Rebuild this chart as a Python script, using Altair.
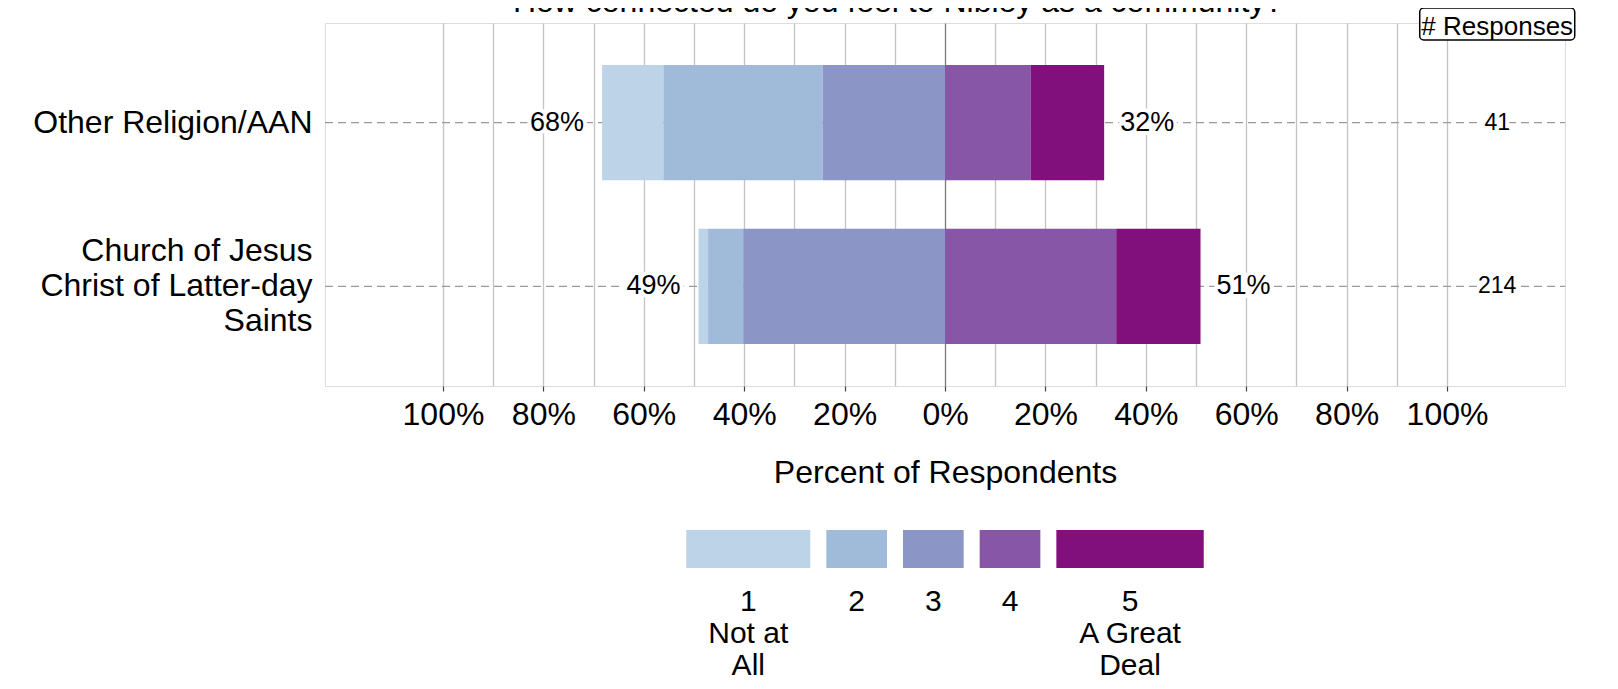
import altair as alt
import pandas as pd

# ---------------- data ----------------
title_text = "How connected do you feel to Nibley as a community?"
groups = ["Other Religion/AAN", "Church of Jesus\nChrist of Latter-day\nSaints"]
levels = ["1", "2", "3", "4", "5"]
level_names = ["1\nNot at\nAll", "2", "3", "4", "5\nA Great\nDeal"]
colors = ["#bdd3e7", "#9fbbd9", "#8b96c6", "#8856a7", "#810f7c"]
pct_other = [12.2, 31.7, 24.4, 17.1, 14.6]
pct_church = [1.9, 7.0, 40.2, 34.1, 16.8]
n_responses = [41, 214]
x_ticks = [round(i / 10, 1) for i in range(-10, 11)]

# ---------------- layout ----------------
W, H = 1240, 363
XMAX = 1.235
PX = W / (2 * XMAX)          # pixels per unit
N_X = 1.1                    # column of response counts
FONT = "Liberation Sans"
LH = 35                      # line height of y labels

# ---------------- tables ----------------
seg_rows, lab_rows = [], []
for g, pcts, n in zip(groups, [pct_other, pct_church], n_responses):
    neg = sum(pcts[:3]) / 100
    pos = sum(pcts[3:]) / 100
    start = -neg
    for lev, p in zip(levels, pcts):
        seg_rows.append(dict(group=g, level=lev, x=start, x2=start + p / 100))
        start += p / 100
    lab_rows.append(dict(group=g, left=-neg, right=pos,
                         ltxt=f"{round(neg * 100)}%", rtxt=f"{round(pos * 100)}%",
                         n=str(n), nx=N_X))
seg = pd.DataFrame(seg_rows)
lab = pd.DataFrame(lab_rows)

# legend: swatch widths from approximate Arial glyph widths
aw = {"N": 722, "o": 556, "t": 278, " ": 278, "a": 556, "A": 667, "l": 222,
      "G": 778, "r": 333, "e": 556, "D": 722}
LEG_FS = 30
def tw(s):
    return sum(aw.get(c, 556) for c in s) * LEG_FS / 1000
widths = [max(tw(line) for line in name.split("\n")) + 44 for name in level_names]
gap = 16
total = sum(widths) + gap * (len(widths) - 1)
cur = W / 2 - total / 2
leg_rows = []
for lev, name, w in zip(levels, level_names, widths):
    a, b = cur, cur + w
    leg_rows.append(dict(level=lev, name=name,
                         lx=(a - W / 2) / PX, lx2=(b - W / 2) / PX,
                         lc=((a + b) / 2 - W / 2) / PX))
    cur = b + gap
leg = pd.DataFrame(leg_rows)

hw = 77.5 / PX
hdr = pd.DataFrame([dict(x=N_X - hw, x2=N_X + hw, xc=N_X, t="# Responses")])
ttl = pd.DataFrame([dict(t=title_text)])

xscale = alt.Scale(domain=[-XMAX, XMAX], nice=False, zero=False)
yscale = alt.Scale(domain=groups, paddingInner=0.296, paddingOuter=0.256)
cscale = alt.Scale(domain=levels, range=colors)

x_axis = alt.Axis(
    values=x_ticks,
    labelExpr="abs(round(datum.value*10)) % 2 == 0 ? format(abs(datum.value), '.0%') : ''",
    grid=True,
    gridColor={"condition": {"test": "abs(datum.value) < 1e-9", "value": "#7a7a7a"},
               "value": "#c4c4c4"},
    gridWidth=1.3,
    ticks=True, tickSize=5, tickColor="#444", tickWidth=1.2,
    tickOpacity={"condition": {"test": "abs(round(datum.value*10)) % 2 == 0", "value": 1},
                 "value": 0},
    labelFontSize=32, labelPadding=8, labelColor="black", labelFont=FONT,
    labelFlush=False, labelOverlap=False,
    domain=False,
    title="Percent of Respondents", titleFontSize=32, titleFontWeight="normal",
    titleFont=FONT, titleColor="black", titleBaseline="alphabetic", titleY=96,
)
y_axis = alt.Axis(
    title=None, labelFontSize=32, labelPadding=13, ticks=False, domain=False,
    grid=False, labelColor="black", labelFont=FONT, labelLimit=500,
    labelExpr="split(datum.label, '\\n')", labelLineHeight=LH,
    labelOffset={"condition": {"test": "indexof(datum.value, '\\n') >= 0", "value": -LH},
                 "value": 0},
)

Y = alt.Y("group:N", scale=yscale, sort=groups, axis=y_axis)

dash = alt.Chart(lab).mark_rule(color="#9a9a9a", strokeWidth=1.3, strokeDash=[8, 5]).encode(
    y=Y, x=alt.value(0), x2=alt.value(W))

bars = alt.Chart(seg).mark_bar(strokeWidth=0).encode(
    x=alt.X("x:Q", scale=xscale, axis=x_axis),
    x2="x2:Q",
    y=Y,
    color=alt.Color("level:N", scale=cscale, legend=None),
)

def halo_text(df, xfield, tfield, size, align, dx):
    base = alt.Chart(df).encode(x=alt.X(f"{xfield}:Q", scale=xscale), y=Y,
                                text=f"{tfield}:N")
    back = base.mark_text(font=FONT, fontSize=size, align=align, dx=dx,
                          baseline="middle", color="white", stroke="white",
                          strokeWidth=8, strokeJoin="round")
    front = base.mark_text(font=FONT, fontSize=size, align=align, dx=dx,
                           baseline="middle", color="black")
    return back + front

left_t = halo_text(lab, "left", "ltxt", 27, "right", -18)
right_t = halo_text(lab, "right", "rtxt", 27, "left", 16)
n_t = halo_text(lab, "nx", "n", 23, "center", 0)

hdr_box = alt.Chart(hdr).mark_rect(fill="white", stroke="black", strokeWidth=1.5,
                                   cornerRadius=4).encode(
    x=alt.X("x:Q", scale=xscale), x2="x2:Q", y=alt.value(-15), y2=alt.value(17))
hdr_txt = alt.Chart(hdr).mark_text(font=FONT, fontSize=26, baseline="alphabetic",
                                   color="black").encode(
    x=alt.X("xc:Q", scale=xscale), y=alt.value(12), text="t:N")

title = alt.Chart(ttl).mark_text(font=FONT, fontSize=32, baseline="alphabetic",
                                 color="black").encode(
    x=alt.value(573), y=alt.value(-11), text="t:N")

leg_sw = alt.Chart(leg).mark_rect(strokeWidth=0).encode(
    x=alt.X("lx:Q", scale=xscale), x2="lx2:Q",
    y=alt.value(507), y2=alt.value(545),
    color=alt.Color("level:N", scale=cscale, legend=None))
leg_tx = alt.Chart(leg).mark_text(font=FONT, fontSize=LEG_FS, baseline="alphabetic",
                                  lineBreak="\n", lineHeight=32, color="black").encode(
    x=alt.X("lc:Q", scale=xscale), y=alt.value(588), text="name:N")

chart = alt.layer(
    dash, bars, left_t, right_t, n_t, hdr_box, hdr_txt, title, leg_sw, leg_tx
).properties(
    width=W, height=H,
    autosize=alt.AutoSizeParams(type="none"),
    padding={"left": 317, "top": 15, "right": 45, "bottom": 295},
    background="white",
).configure_view(
    stroke="#aaaaaa", strokeWidth=1.5
).configure(font=FONT)

chart.save("out.html", embed_options={"renderer": "svg", "actions": False})
